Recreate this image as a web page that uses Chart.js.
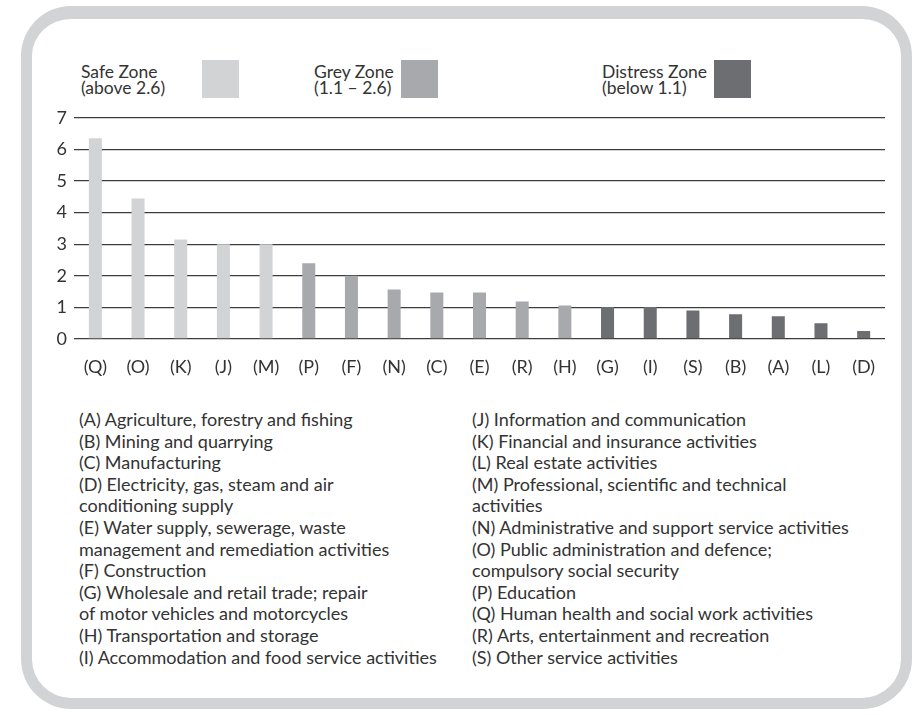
<!DOCTYPE html>
<html lang="en">
<head>
<meta charset="utf-8">
<title>Industry Z-score zones</title>
<script src="https://cdn.jsdelivr.net/npm/chart.js@4.4.1/dist/chart.umd.min.js"></script>
<style>
    html, body {
        margin: 0;
        padding: 0;
        background: #ffffff;
        font-family: 'Lato', 'Open Sans', sans-serif;
        color: #333333;
    }
    .page {
        position: relative;
        width: 922px;
        height: 715px;
        overflow: hidden;
    }
    .frame {
        position: absolute;
        left: 21px;
        top: 6px;
        width: 869px;
        height: 679px;
        border: 11px solid #d1d3d4;
        border-top-width: 13px;
        border-radius: 50px;
    }
    .zone {
        position: absolute;
        font-size: 17.5px;
        line-height: 15.5px;
    }
    .swatch {
        position: absolute;
        width: 37px;
        height: 38px;
        top: 60px;
    }
    .chart-box {
        position: absolute;
        left: 30px;
        top: 100px;
        width: 870px;
        height: 290px;
    }
    .key {
        position: absolute;
        top: 409px;
        font-size: 18px;
        line-height: 21.6px;
        white-space: nowrap;
    }
</style>
</head>
<body>
<div class="page">
    <div class="frame"></div>

    <div class="zone" style="left:81px; top:64px;">Safe Zone<br>(above 2.6)</div>
    <div class="swatch" style="left:202px; background:#d1d3d4;"></div>
    <div class="zone" style="left:314px; top:64px;">Grey Zone<br>(1.1 – 2.6)</div>
    <div class="swatch" style="left:401px; background:#a7a9ac;"></div>
    <div class="zone" style="left:602px; top:64px;">Distress Zone<br>(below 1.1)</div>
    <div class="swatch" style="left:714px; background:#6d6e71;"></div>

    <div class="chart-box"><canvas id="zone-chart"></canvas></div>

    <div class="key" style="left:79px;">
        (A) Agriculture, forestry and fishing<br>
        (B) Mining and quarrying<br>
        (C) Manufacturing<br>
        (D) Electricity, gas, steam and air<br>
        conditioning supply<br>
        (E) Water supply, sewerage, waste<br>
        management and remediation activities<br>
        (F) Construction<br>
        (G) Wholesale and retail trade; repair<br>
        of motor vehicles and motorcycles<br>
        (H) Transportation and storage<br>
        (I) Accommodation and food service activities
    </div>
    <div class="key" style="left:472px;">
        (J) Information and communication<br>
        (K) Financial and insurance activities<br>
        (L) Real estate activities<br>
        (M) Professional, scientific and technical<br>
        activities<br>
        (N) Administrative and support service activities<br>
        (O) Public administration and defence;<br>
        compulsory social security<br>
        (P) Education<br>
        (Q) Human health and social work activities<br>
        (R) Arts, entertainment and recreation<br>
        (S) Other service activities
    </div>
</div>

<script>
// 行业代码（按数值从高到低排列）
const sectors = ['(Q)', '(O)', '(K)', '(J)', '(M)', '(P)', '(F)', '(N)', '(C)', '(E)',
                 '(R)', '(H)', '(G)', '(I)', '(S)', '(B)', '(A)', '(L)', '(D)'];

// 各行业得分
const scores = [6.35, 4.45, 3.15, 3.0, 3.0, 2.4, 2.0, 1.57, 1.47, 1.47,
                1.19, 1.06, 1.01, 1.01, 0.9, 0.78, 0.72, 0.5, 0.25];

// 每个行业所属区间
const zones = ['safe', 'safe', 'safe', 'safe', 'safe', 'grey', 'grey', 'grey', 'grey', 'grey',
               'grey', 'grey', 'distress', 'distress', 'distress', 'distress', 'distress', 'distress', 'distress'];

// y轴刻度
const yTicks = [0, 1, 2, 3, 4, 5, 6, 7];

const zoneColours = {
    safe: '#d1d3d4',
    grey: '#a7a9ac',
    distress: '#6d6e71'
};

document.addEventListener('DOMContentLoaded', function() {
    initChart();
});

// 初始化柱状图
function initChart() {
    const canvas = document.getElementById('zone-chart');
    if (!canvas) return;

    const tickFont = { family: "'Lato', 'Open Sans', sans-serif", size: 18 };

    new Chart(canvas, {
        type: 'bar',
        data: {
            labels: sectors,
            datasets: [{
                data: scores,
                backgroundColor: zones.map(z => zoneColours[z]),
                borderWidth: 0,
                categoryPercentage: 1,
                barPercentage: 0.305
            }]
        },
        options: {
            responsive: true,
            maintainAspectRatio: false,
            animation: false,
            layout: {
                padding: { top: 15, right: 15, left: 0, bottom: 0 }
            },
            plugins: {
                legend: { display: false },
                tooltip: { enabled: false }
            },
            scales: {
                x: {
                    grid: { display: false, drawTicks: false },
                    border: { display: false },
                    ticks: {
                        color: '#333333',
                        font: tickFont,
                        padding: 17,
                        maxRotation: 0,
                        autoSkip: false
                    },
                    afterFit: function(scale) {
                        scale.height = 51;
                    }
                },
                y: {
                    min: yTicks[0],
                    max: yTicks[yTicks.length - 1],
                    afterBuildTicks: function(scale) {
                        scale.ticks = yTicks.map(v => ({ value: v }));
                    },
                    grid: {
                        color: '#3d3d3d',
                        lineWidth: 1.3,
                        drawTicks: false
                    },
                    border: { display: false },
                    ticks: {
                        color: '#333333',
                        font: tickFont,
                        padding: 7
                    },
                    afterFit: function(scale) {
                        scale.width = 44;
                    }
                }
            }
        }
    });
}
</script>
</body>
</html>
